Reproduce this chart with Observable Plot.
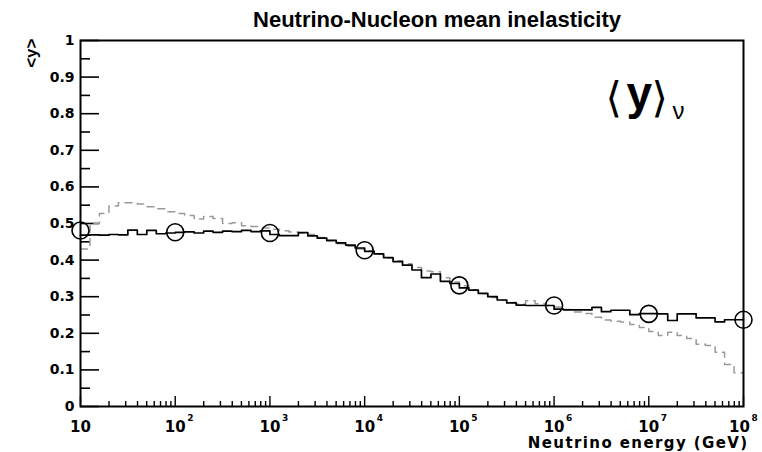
<!DOCTYPE html>
<html>
<head>
<meta charset="utf-8">
<script src="https://cdn.jsdelivr.net/npm/d3@7"></script>
<script src="https://cdn.jsdelivr.net/npm/@observablehq/plot@0.6"></script>
<style>
  body { margin: 0; background: #fff; }
  #chart svg { display: block; }
</style>
</head>
<body>
<div id="chart"></div>
<script>
// Histogram binning: 10 bins per decade from 10^1 to 10^8 GeV
const logMin = 1;
const binsPerDecade = 10;

// Solid histogram (mean inelasticity per bin)
const solidValues = [
  0.468, 0.469, 0.468, 0.470, 0.469, 0.482, 0.470, 0.481, 0.472, 0.474,
  0.476, 0.477, 0.474, 0.479, 0.476, 0.479, 0.478, 0.481, 0.478, 0.480,
  0.470, 0.467, 0.467, 0.475, 0.466, 0.460, 0.454, 0.447, 0.441, 0.433,
  0.424, 0.417, 0.407, 0.396, 0.386, 0.373, 0.352, 0.362, 0.342, 0.336,
  0.324, 0.318, 0.309, 0.300, 0.291, 0.283, 0.277, 0.276, 0.276, 0.276,
  0.266, 0.264, 0.264, 0.264, 0.271, 0.259, 0.263, 0.263, 0.251, 0.254,
  0.254, 0.253, 0.235, 0.253, 0.253, 0.242, 0.242, 0.231, 0.237, 0.237
];

// Dashed grey histogram
const dashedValues = [
  0.430, 0.500, 0.527, 0.548, 0.557, 0.557, 0.553, 0.546, 0.540, 0.532,
  0.527, 0.522, 0.512, 0.519, 0.514, 0.500, 0.502, 0.494, 0.492, 0.488,
  0.484, 0.480, 0.477, 0.474, 0.470, 0.462, 0.452, 0.445, 0.438, 0.430,
  0.425, 0.416, 0.406, 0.398, 0.390, 0.380, 0.370, 0.368, 0.352, 0.340,
  0.330, 0.318, 0.308, 0.298, 0.290, 0.284, 0.280, 0.289, 0.281, 0.276,
  0.272, 0.265, 0.258, 0.254, 0.244, 0.236, 0.233, 0.231, 0.224, 0.216,
  0.205, 0.194, 0.203, 0.194, 0.186, 0.170, 0.167, 0.148, 0.115, 0.092
];

// Open circle markers
const markerEnergies = [1e1, 1e2, 1e3, 1e4, 1e5, 1e6, 1e7, 1e8];
const markerValues   = [0.481, 0.476, 0.474, 0.427, 0.331, 0.276, 0.253, 0.237];

// Axis ticks
const yTickValues = [0, 0.1, 0.2, 0.3, 0.4, 0.5, 0.6, 0.7, 0.8, 0.9, 1];
const yTickLabels = ["0", "0.1", "0.2", "0.3", "0.4", "0.5", "0.6", "0.7", "0.8", "0.9", "1"];
const yMinorValues = [0.05, 0.15, 0.25, 0.35, 0.45, 0.55, 0.65, 0.75, 0.85, 0.95];
const xDecades = [1e1, 1e2, 1e3, 1e4, 1e5, 1e6, 1e7, 1e8];
const xDecadeExponents = ["", "2", "3", "4", "5", "6", "7", "8"];
const xMinorMultipliers = [2, 3, 4, 5, 6, 7, 8, 9];

// Texts
const titleText = "Neutrino-Nucleon mean inelasticity";
const xTitle = "Neutrino energy (GeV)";
const yTitle = "<y>";

// Build tables
const edges = d3.range(solidValues.length + 1).map(i => 10 ** (logMin + i / binsPerDecade));
const steps = vals => edges.map((x, i) => ({x, y: vals[Math.min(i, vals.length - 1)]}));
const solidSteps = steps(solidValues);
const dashedSteps = steps(dashedValues);
const markers = markerEnergies.map((x, i) => ({x, y: markerValues[i]}));
const yTicks = yTickValues.map((v, i) => ({v, label: yTickLabels[i]}));
const xLabels = xDecades.map((v, i) => ({v, exp: xDecadeExponents[i]}));
const xLabelsInner = xLabels.slice(0, -1);
const xLabelsLast = xLabels.slice(-1);
const xMinor = xDecades.slice(0, -1).flatMap(d => xMinorMultipliers.map(m => d * m));

const W = 762, H = 452;
const frameW = 743 - 80;   // plot area width in px
const frameH = 406 - 40;   // plot area height in px
const font = "DejaVu Sans";
const helv = "Liberation Sans";
const labelStyle = {fontFamily: font, fontWeight: "bold", fill: "#000"};

const chart = Plot.plot({
  width: W,
  height: H,
  marginLeft: 80,
  marginRight: 19,
  marginTop: 40,
  marginBottom: 46,
  style: {background: "#fff", overflow: "visible"},
  x: {type: "log", domain: [10, 1e8], axis: null},
  y: {domain: [0, 1], axis: null},
  marks: [
    // y ticks (inside frame)
    Plot.tickY(yTickValues, {y: d => d, insetRight: frameW - 19, stroke: "#000", strokeWidth: 1.6}),
    Plot.tickY(yMinorValues, {y: d => d, insetRight: frameW - 10, stroke: "#000", strokeWidth: 1.6}),
    // x ticks (inside frame)
    Plot.tickX(xDecades, {x: d => d, insetTop: frameH - 10, stroke: "#000", strokeWidth: 1.4}),
    Plot.tickX(xMinor, {x: d => d, insetTop: frameH - 5, stroke: "#000", strokeWidth: 1.4}),
    // dashed histogram
    Plot.line(dashedSteps, {x: "x", y: "y", curve: "step-after", stroke: "#999", strokeWidth: 1.5, strokeDasharray: "7,6"}),
    // solid histogram
    Plot.line(solidSteps, {x: "x", y: "y", curve: "step-after", stroke: "#000", strokeWidth: 1.7}),
    // markers
    Plot.dot(markers, {x: "x", y: "y", r: 8.5, stroke: "#000", strokeWidth: 1.6, fill: "none"}),
    // frame
    Plot.frame({stroke: "#000", strokeWidth: 2}),
    // y tick labels
    Plot.text(yTicks, {y: "v", text: "label", frameAnchor: "left", textAnchor: "end", lineAnchor: "middle", dx: -6, fontSize: 14, ...labelStyle}),
    // x tick labels: mantissa "10" and superscript exponent
    Plot.text(xLabelsInner, {x: "v", text: () => "10", frameAnchor: "bottom", lineAnchor: "bottom", dy: 25, fontSize: 15, ...labelStyle}),
    Plot.text(xLabelsLast, {x: "v", text: () => "10", frameAnchor: "bottom", lineAnchor: "bottom", dx: -4, dy: 25, fontSize: 15, ...labelStyle}),
    Plot.text(xLabelsInner, {x: "v", text: "exp", frameAnchor: "bottom", textAnchor: "start", lineAnchor: "bottom", dx: 12, dy: 14, fontSize: 9, ...labelStyle}),
    Plot.text(xLabelsLast, {x: "v", text: "exp", frameAnchor: "bottom", textAnchor: "start", lineAnchor: "bottom", dx: 8, dy: 14, fontSize: 9, ...labelStyle}),
    // axis titles
    Plot.text([xTitle], {text: d => d, frameAnchor: "bottom-right", textAnchor: "end", lineAnchor: "bottom", dx: 5, dy: 41, fontSize: 15,
      className: "xtitle", ...labelStyle}),
    Plot.text([yTitle], {text: d => d, frameAnchor: "top-left", rotate: -90, textAnchor: "end", lineAnchor: "middle", dx: -49, dy: -2,
      fontFamily: helv, fontWeight: "bold", fontSize: 17, fill: "#000"}),
    // title
    Plot.text([titleText], {text: d => d, frameAnchor: "top", lineAnchor: "bottom", dx: 25, dy: -14,
      fontFamily: helv, fontWeight: "bold", fontSize: 22, fill: "#000"}),
    // legend-like label <y>_nu
    Plot.text(["\u27E8"], {text: d => d, frameAnchor: "top-left", textAnchor: "start", lineAnchor: "bottom", dx: 525, dy: 71,
      fontFamily: font, fontSize: 42, fill: "#000"}),
    Plot.text(["y"], {text: d => d, frameAnchor: "top-left", textAnchor: "start", lineAnchor: "bottom", dx: 546, dy: 68,
      fontFamily: helv, fontWeight: "bold", fontSize: 46, fill: "#000"}),
    Plot.text(["\u27E9"], {text: d => d, frameAnchor: "top-left", textAnchor: "start", lineAnchor: "bottom", dx: 571, dy: 71,
      fontFamily: font, fontSize: 42, fill: "#000"}),
    Plot.text(["\u03BD"], {text: d => d, frameAnchor: "top-left", textAnchor: "start", lineAnchor: "bottom", dx: 592, dy: 78,
      fontFamily: helv, fontSize: 24, fill: "#000"})
  ]
});

// widen the x-axis title slightly, as in the reference
d3.select(chart).selectAll(".xtitle text").attr("letter-spacing", 1.4);

document.getElementById("chart").appendChild(chart);
</script>
</body>
</html>
